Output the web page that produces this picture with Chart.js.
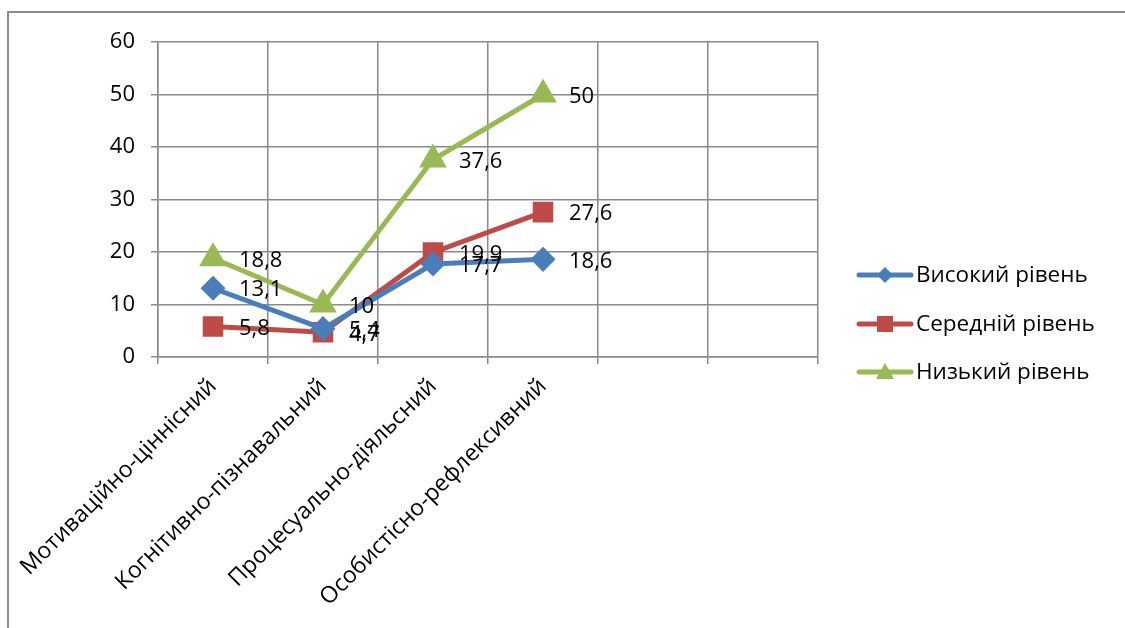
<!DOCTYPE html>
<html>
<head>
<meta charset="utf-8">
<script src="https://cdn.jsdelivr.net/npm/chart.js@4"></script>
<style>
  html, body { margin: 0; padding: 0; background: #fff; }
  #wrap { width: 1125px; height: 628px; position: relative; }
</style>
</head>
<body>
<div id="wrap"><canvas id="levelChart"></canvas></div>
<script>
const categories = ['Мотиваційно-ціннісний', 'Когнітивно-пізнавальний', 'Процесуально-діяльсний', 'Особистісно-рефлексивний', '', ''];
const seriesNames = ['Високий рівень', 'Середній рівень', 'Низький рівень'];
const highValues = [13.1, 5.4, 17.7, 18.6];
const midValues = [5.8, 4.7, 19.9, 27.6];
const lowValues = [18.8, 10, 37.6, 50];

const FONT = '"Open Sans", "Noto Sans", sans-serif';
const GRID = '#8a8a8a';

// value labels to the right of each point, comma as decimal separator
const valueLabels = {
  id: 'valueLabels',
  afterDatasetsDraw(chart) {
    const ctx = chart.ctx;
    ctx.save();
    ctx.font = '22px ' + FONT;
    ctx.fillStyle = '#000';
    ctx.textAlign = 'left';
    ctx.textBaseline = 'middle';
    chart.data.datasets.forEach((ds, i) => {
      chart.getDatasetMeta(i).data.forEach((pt, j) => {
        const v = ds.data[j];
        if (v == null) return;
        ctx.fillText(String(v).replace('.', ','), pt.x + 26, pt.y + 2);
      });
    });
    ctx.restore();
  }
};

// line + marker legend on the right, plus the outer frame
const sideLegend = {
  id: 'sideLegend',
  afterDraw(chart) {
    const ctx = chart.ctx;
    ctx.save();
    ctx.strokeStyle = '#8c8c8c';
    ctx.lineWidth = 2;
    ctx.strokeRect(8, 12, 1300, 800);
    const ys = [275, 324, 372];
    chart.data.datasets.forEach((ds, i) => {
      const y = ys[i];
      ctx.strokeStyle = ds.borderColor;
      ctx.lineWidth = 5;
      ctx.lineCap = 'round';
      ctx.beginPath();
      ctx.moveTo(859, y);
      ctx.lineTo(911, y);
      ctx.stroke();
      ctx.fillStyle = ds.backgroundColor;
      ctx.beginPath();
      if (i === 0) {
        ctx.moveTo(885, y - 8); ctx.lineTo(893, y); ctx.lineTo(885, y + 8); ctx.lineTo(877, y);
      } else if (i === 1) {
        ctx.rect(877, y - 8, 16, 16);
      } else {
        ctx.moveTo(885, y - 9); ctx.lineTo(894, y + 7); ctx.lineTo(876, y + 7);
      }
      ctx.closePath();
      ctx.fill();
      ctx.fillStyle = '#000';
      ctx.font = '22.5px ' + FONT;
      ctx.textAlign = 'left';
      ctx.textBaseline = 'middle';
      ctx.fillText(ds.label, 916, y + 1);
    });
    ctx.restore();
  }
};

new Chart(document.getElementById('levelChart'), {
  type: 'line',
  data: {
    labels: categories,
    datasets: [
      {
        label: seriesNames[0],
        data: highValues,
        borderColor: '#4a7ebb',
        backgroundColor: '#4a7ebb',
        borderWidth: 5,
        pointStyle: 'rectRot',
        pointRadius: 9,
        pointHoverRadius: 9
      },
      {
        label: seriesNames[1],
        data: midValues,
        borderColor: '#be4b48',
        backgroundColor: '#be4b48',
        borderWidth: 5,
        pointStyle: 'rect',
        pointRadius: 11,
        pointHoverRadius: 11
      },
      {
        label: seriesNames[2],
        data: lowValues,
        borderColor: '#98b954',
        backgroundColor: '#98b954',
        borderWidth: 5,
        pointStyle: 'triangle',
        pointRadius: 11,
        pointHoverRadius: 11
      }
    ]
  },
  options: {
    responsive: true,
    maintainAspectRatio: false,
    animation: false,
    layout: { padding: { top: 42, right: 307, left: 0, bottom: 0 } },
    plugins: {
      legend: { display: false },
      tooltip: { enabled: false }
    },
    scales: {
      x: {
        offset: true,
        grid: { offset: true, color: GRID, lineWidth: 1.5, tickLength: 7 },
        border: { color: GRID, width: 1.5 },
        ticks: { color: '#000', font: { family: FONT, size: 23 }, minRotation: 45, maxRotation: 45, padding: 9 },
        afterFit(s) { s.height = 628 - 357; }
      },
      y: {
        min: 0,
        max: 60,
        ticks: { stepSize: 10, color: '#000', font: { family: FONT, size: 22 }, padding: 16 },
        grid: { color: GRID, lineWidth: 1.5, tickLength: 7 },
        border: { color: GRID, width: 1.5 },
        afterFit(s) { s.width = 158; }
      }
    }
  },
  plugins: [valueLabels, sideLegend]
});
</script>
</body>
</html>
